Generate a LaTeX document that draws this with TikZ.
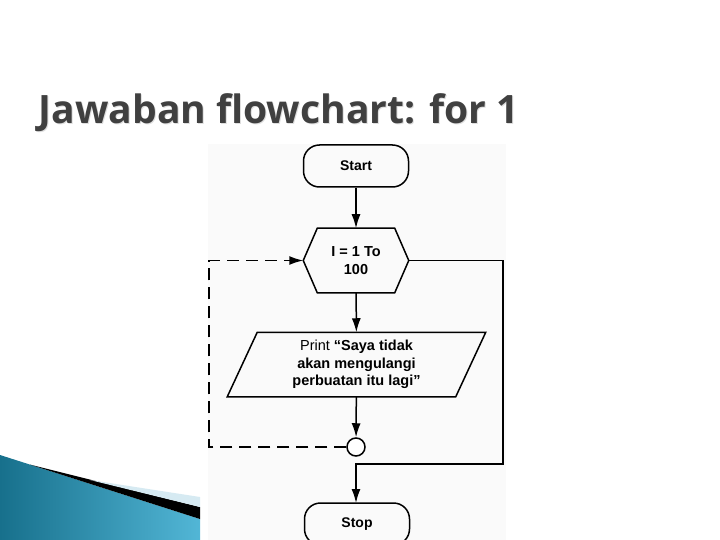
\documentclass[tikz,border=0pt]{standalone}
\usepackage{fontspec}
\setmainfont{Liberation Sans}
\newfontfamily\titlefont{Open Sans}
\usetikzlibrary{arrows.meta}
\definecolor{titlegray}{HTML}{404040}
\definecolor{tealdark}{HTML}{17708C}
\definecolor{teallight}{HTML}{52B6D6}
\definecolor{paleblue}{HTML}{D6EAF2}
\begin{document}
\begin{tikzpicture}[x=1pt,y=-1pt,
  line width=1.5pt,
  arr/.style={-{Latex[length=14pt,width=9pt]}},
  dashline/.style={dash pattern=on 12pt off 7pt},
  term/.style={draw, rounded corners=16pt, minimum width=105pt, minimum height=42pt, inner sep=0pt, font=\bfseries\fontsize{14}{16}\selectfont},
  box/.style={minimum width=104pt, minimum height=63pt, inner sep=0pt, align=center, font=\bfseries\fontsize{14.5}{17.5}\selectfont},
  conn/.style={draw, circle, minimum size=18pt, inner sep=0pt, fill=white}]
\clip (0,0) rectangle (720,540);
\fill[white] (0,0) rectangle (720,540);
\fill[gray!4] (208,144) rectangle (506,540);
% title
\node[anchor=base west, text=black!13, inner sep=0pt] (titleshadow) at (39,125)
  {\resizebox{480pt}{!}{\titlefont\bfseries Jawaban flowchart: for 1}};
\node[anchor=base west, text=titlegray, inner sep=0pt] (title) at (38,124)
  {\resizebox{480pt}{!}{\titlefont\bfseries Jawaban flowchart: for 1}};
% swoosh
\shade[left color=tealdark, right color=teallight, draw=none]
  (0,455) -- (200,519) -- (200,540) -- (0,540) -- cycle;
\fill[black] (30,464.6) -- (200,507) -- (200,519) -- cycle;
\fill[paleblue] (90,480) -- (200,497) -- (200,507) -- cycle;
% nodes
\node[term] (start) at (356,166) {Start};
\node[box] (hex) at (356,260.5) {I = 1 To\\100};
\draw (hex.west) -- ([xshift=14pt]hex.north west) -- ([xshift=-14pt]hex.north east)
  -- (hex.east) -- ([xshift=-14pt]hex.south east) -- ([xshift=14pt]hex.south west) -- cycle;
\node[box, minimum width=257pt, minimum height=63pt] (para) at (356.5,364.5)
  {\mdseries Print \bfseries “Saya tidak\\akan mengulangi\\perbuatan itu lagi”};
\draw ([xshift=30pt]para.north west) -- (para.north east) -- ([xshift=-30pt]para.south east)
  -- (para.south west) -- cycle;
\node[conn] (c) at (356,447) {};
\node[term] (stop) at (357,524) {Stop};
% coordinates
\coordinate (dl) at (209,447);
\coordinate (dt) at (209,260.5);
\coordinate (rt) at (503,260.5);
\coordinate (rb) at (503,464);
\coordinate (mb) at (356,464);
\coordinate (sb) at (356,503);
% connectors
\draw[arr] (start) -- (hex);
\draw[arr] (hex) -- (para);
\draw[arr] (para) -- (c);
\draw[arr, dashline] (c.west) -- (dl) -- (dt) -- (hex.west);
\draw[arr] (hex.east) -- (rt) -- (rb) -- (mb) -- (sb);
\end{tikzpicture}
\end{document}
